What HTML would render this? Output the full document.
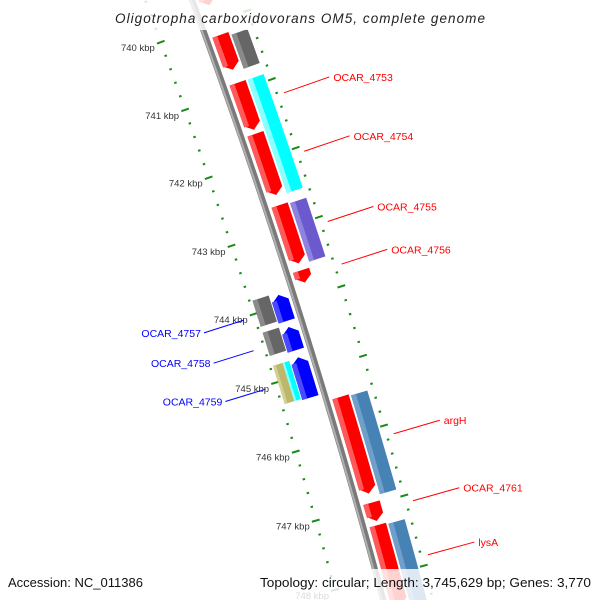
<!DOCTYPE html>
<html><head><meta charset="utf-8"><style>
html,body{margin:0;padding:0;background:#fff;width:600px;height:600px;overflow:hidden}
svg{display:block}
text{font-family:"Liberation Sans",sans-serif}
</style></head><body>
<svg id="map" width="600" height="600" viewBox="0 0 600 600" xmlns="http://www.w3.org/2000/svg" style="overflow:hidden">
<g id="ticks"></g>
<path id="backbone" fill="none" stroke="#7a7a7a" stroke-width="6"/>
<path id="backbone-hl" fill="none" stroke="#b0b0b0" stroke-width="2"/>
<g id="features"></g>
<g id="labels"></g>
<rect x="0" y="0" width="600" height="30" fill="#fff" fill-opacity="0.82"/>
<text x="115" y="23" font-size="13.5" font-style="italic" fill="#222" textLength="370" lengthAdjust="spacing">Oligotropha carboxidovorans OM5, complete genome</text>
<rect x="0" y="569" width="600" height="31" fill="#fff" fill-opacity="0.82"/>
<text x="8" y="587" font-size="13" fill="#111" textLength="135" lengthAdjust="spacingAndGlyphs">Accession: NC_011386</text>
<text x="260" y="587" font-size="13" fill="#111" textLength="331" lengthAdjust="spacingAndGlyphs">Topology: circular; Length: 3,745,629 bp; Genes: 3,770</text>
</svg>
<script>
// ---- data ----
const featStart = [739000,740187,740889,741635,742673,743622,745450,746971,747292, 740238,740896,741600,742694,745472,747314, 743848,744316,744754, 743816,744284,744766,744766];
const featEnd   = [739749,740699,741576,742526,743520,743798,746839,747234,748450, 740735,741600,742548,743542,746890,748600, 744228,744652,745339, 744196,744620,745322,745322];
const featStrand= [1,1,1,1,1,1,1,1,1, 0,0,0,0,0,0, -1,-1,-1, 0,0,0,0];
const featRing  = ['RA','RA','RA','RA','RA','RA','RA','RA','RA','RB','RB','RB','RB','RB','RB','LA','LA','LA','LB','LB','LBo','LBi'];
const featType  = ['cds','cds','cds','cds','cds','cds','cds','cds','cds','other','cyan','cyan','purple','steel','steel','rev','rev','rev','other','other','khaki','cyan'];
const labelNames= ['OCAR_4753','OCAR_4754','OCAR_4755','OCAR_4756','argH','OCAR_4761','lysA','OCAR_4757','OCAR_4758','OCAR_4759'];
const labelBp   = [741232,742080,743096,743710,746145,747102,747870,744038,744484,745046];
const labelSide = [1,1,1,1,1,1,1,-1,-1,-1];
const tickMajorKbp = [739,740,741,742,743,744,745,746,747,748,749];
const tickLabels = ['739 kbp','740 kbp','741 kbp','742 kbp','743 kbp','744 kbp','745 kbp','746 kbp','747 kbp','748 kbp','749 kbp'];

// ---- geometry ----
const CX=-6275, CY=2391, R0=6895;
function ang(bp){return (-20.05+(bp-740000)*0.000601)*Math.PI/180;}
function P(bp,r){const a=ang(bp);return [CX+r*Math.cos(a), CY+r*Math.sin(a)];}
function arc(s,e,r,n){const o=[];for(let i=0;i<=n;i++){o.push(P(s+(e-s)*i/n,r));}return o;}
const rings={RA:[6,23],RB:[25,42],LA:[-23,-6],LB:[-41,-24],LBo:[-41,-31],LBi:[-31,-24]};
const colors={cds:['#ff0000','#ff5a5a'],other:['#666666','#8a8a8a'],cyan:['#00ffff','#8cffff'],purple:['#6a5acd','#8f83e0'],steel:['#4682b4','#6f9fca'],rev:['#0000ff','#4a4aff'],khaki:['#bdb76b','#d4cf93']};
const NS='http://www.w3.org/2000/svg';
function ptsStr(a){return a.map(p=>p[0].toFixed(2)+','+p[1].toFixed(2)).join(' ');}
function pathOf(a){return 'M'+a.map(p=>p[0].toFixed(2)+' '+p[1].toFixed(2)).join(' L');}
document.getElementById('backbone').setAttribute('d',pathOf(arc(738500,749000,R0,40)));
document.getElementById('backbone-hl').setAttribute('d',pathOf(arc(738500,749000,R0-1.5,40)));

// ticks
const tg=document.getElementById('ticks');
const ringR=[R0-44,R0+48];
for(let k=0;k<tickMajorKbp.length;k++){
  for(let j=0;j<5;j++){
    const bp=tickMajorKbp[k]*1000+j*200;
    for(const rr of ringR){
      const len=j===0?8:2.5;
      const a=P(bp,rr-len/2),b=P(bp,rr+len/2);
      const l=document.createElementNS(NS,'line');
      l.setAttribute('x1',a[0]);l.setAttribute('y1',a[1]);l.setAttribute('x2',b[0]);l.setAttribute('y2',b[1]);
      l.setAttribute('stroke','#1a8a1a');l.setAttribute('stroke-width','2');
      
      
      tg.appendChild(l);
    }
  }
  const p=P(tickMajorKbp[k]*1000,R0-44);
  const t=document.createElementNS(NS,'text');
  t.setAttribute('x',p[0]-6);t.setAttribute('y',p[1]+9);
  t.setAttribute('font-size','9.5');t.setAttribute('fill','#333');t.setAttribute('text-anchor','end');
  
  
  t.textContent=tickLabels[k];
  tg.appendChild(t);
}

// features
const fg=document.getElementById('features');
for(let i=0;i<featStart.length;i++){
  const s=featStart[i],e=featEnd[i],st=featStrand[i];
  const [r1,r2]=rings[featRing[i]];const ra=R0+r1,rb=R0+r2,rm=(ra+rb)/2;
  const col=colors[featType[i]];
  const h=Math.min(90,(e-s)/2);
  let poly;
  if(st===1){poly=[...arc(s,e-h,rb,10),P(e,rm),...arc(e-h,s,ra,10)];}
  else if(st===-1){poly=[P(s,rm),...arc(s+h,e,rb,10),...arc(e,s+h,ra,10)];}
  else {poly=[...arc(s,e,rb,10),...arc(e,s,ra,10)];}
  const pg=document.createElementNS(NS,'polygon');
  pg.setAttribute('points',ptsStr(poly));pg.setAttribute('fill',col[0]);
  
  
  fg.appendChild(pg);
  const hs=st===-1?s+h*0.8:s, he=st===1?e-h*0.8:e;
  const hr=ra+(rb-ra)*0.3;
  const hp=document.createElementNS(NS,'polygon');
  hp.setAttribute('points',ptsStr([...arc(hs,he,hr,10),...arc(he,hs,ra,10)]));
  hp.setAttribute('fill',col[1]);
  
  
  fg.appendChild(hp);
}

// labels
const lg=document.getElementById('labels');
for(let i=0;i<labelNames.length;i++){
  const sd=labelSide[i];const col=sd===1?'#ff0000':'#0000ff';
  const a=P(labelBp[i],R0+sd*55),b=P(labelBp[i],R0+sd*(sd===1?103:97));
  const l=document.createElementNS(NS,'line');
  l.setAttribute('x1',a[0]);l.setAttribute('y1',a[1]);l.setAttribute('x2',b[0]);l.setAttribute('y2',b[1]);
  l.setAttribute('stroke',col);l.setAttribute('stroke-width','1');
  
  
  lg.appendChild(l);
  const t=document.createElementNS(NS,'text');
  t.setAttribute('x',sd===1?b[0]+4:b[0]-3);t.setAttribute('y',b[1]+4);
  t.setAttribute('font-size','10.5');t.setAttribute('fill',col);
  if(sd===-1)t.setAttribute('text-anchor','end');
  
  
  t.textContent=labelNames[i];
  lg.appendChild(t);
}
</script>
</body></html>
